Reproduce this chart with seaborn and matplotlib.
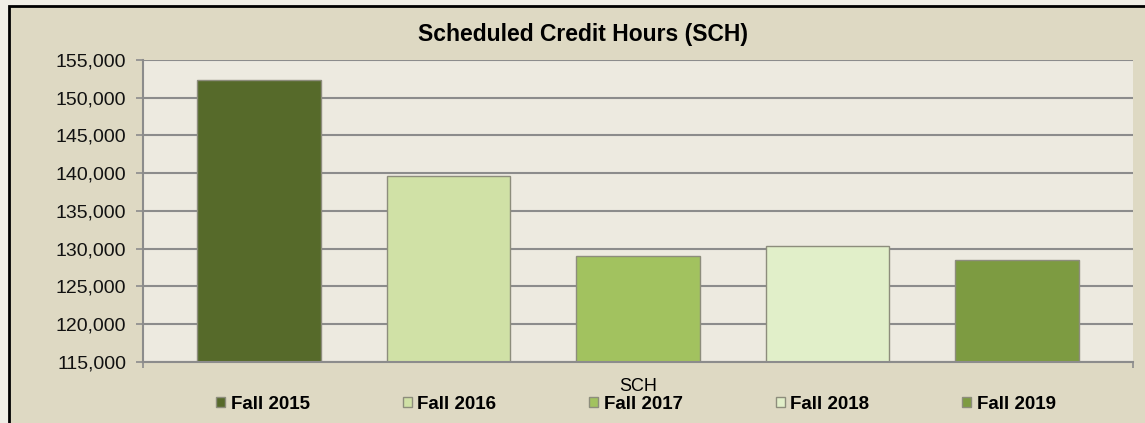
# import the libraries
import pandas as pd
import seaborn as sns
import matplotlib.pyplot as plt
from matplotlib.patches import Rectangle
from matplotlib.ticker import FuncFormatter

# chart data
terms = ["Fall 2015", "Fall 2016", "Fall 2017", "Fall 2018", "Fall 2019"]
sch_values = [152350, 139700, 129050, 130300, 128450]
bar_colors = ["#566a2a", "#d0e1a6", "#a2c25f", "#e1efc9", "#7d9b41"]
y_ticks = [115000, 120000, 125000, 130000, 135000, 140000, 145000, 150000, 155000]

df = pd.DataFrame({"measure": "SCH", "term": terms, "value": sch_values})

plt.rcParams["font.family"] = ["Liberation Sans", "DejaVu Sans"]

# set the figure dimensions
fig = plt.figure(figsize=(11.45, 4.23), dpi=100, facecolor="#f0eee6")

# chart area with black border (top/left visible)
fig.patches.append(
    Rectangle((9 / 1145, -0.2), 1.2, 1.2 - 6 / 423, transform=fig.transFigure,
              facecolor="#ded9c3", edgecolor="black", linewidth=2, zorder=-5)
)

ax = fig.add_axes([143 / 1145, 1 - 362 / 423, 990 / 1145, 302 / 423])
ax.set_facecolor("#edeae0")

# bar chart, one category with five terms as hue
sns.barplot(
    data=df, x="measure", y="value", hue="term", hue_order=terms,
    palette=bar_colors, width=0.8, gap=0.346, ax=ax,
    edgecolor="#8d8d7c", linewidth=1, saturation=1, legend=True,
)

ax.set_xlim(-0.418, 0.418)
ax.set_ylim(115000, 155000)
ax.set_yticks(y_ticks)
ax.yaxis.set_major_formatter(FuncFormatter(lambda v, p: f"{int(v):,}"))
ax.tick_params(axis="y", labelsize=14, colors="#8c8c8c", labelcolor="#111111",
               length=5, width=1.2, pad=7)
ax.set_xticks([-0.418, 0.418])
ax.set_xticklabels(["", ""])
ax.tick_params(axis="x", colors="#8c8c8c", length=4, width=1.2)
ax.set_xlabel("SCH", fontsize=13, labelpad=4)
ax.set_ylabel("")

# grid
ax.grid(axis="y", color="#8c8c8c", linewidth=1.5)
ax.set_axisbelow(True)
for side in ["top", "right"]:
    ax.spines[side].set_visible(False)
for side in ["left", "bottom"]:
    ax.spines[side].set_color("#8c8c8c")
    ax.spines[side].set_linewidth(1.5)

# legend along the bottom
handles, labels = ax.get_legend_handles_labels()
ax.get_legend().remove()
fig.legend(
    handles, labels, loc="center", bbox_to_anchor=(636 / 1145, 1 - 404 / 423),
    ncol=5, frameon=False, prop={"weight": "bold", "size": 13.5},
    handlelength=0.48, handleheight=0.48, handletextpad=0.3, columnspacing=4.95,
)

# title
fig.text(583 / 1145, 1 - 35 / 423, "Scheduled Credit Hours (SCH)",
         ha="center", va="center", fontsize=16.5, fontweight="bold")

plt.savefig("out.png", dpi=100, facecolor=fig.get_facecolor())
